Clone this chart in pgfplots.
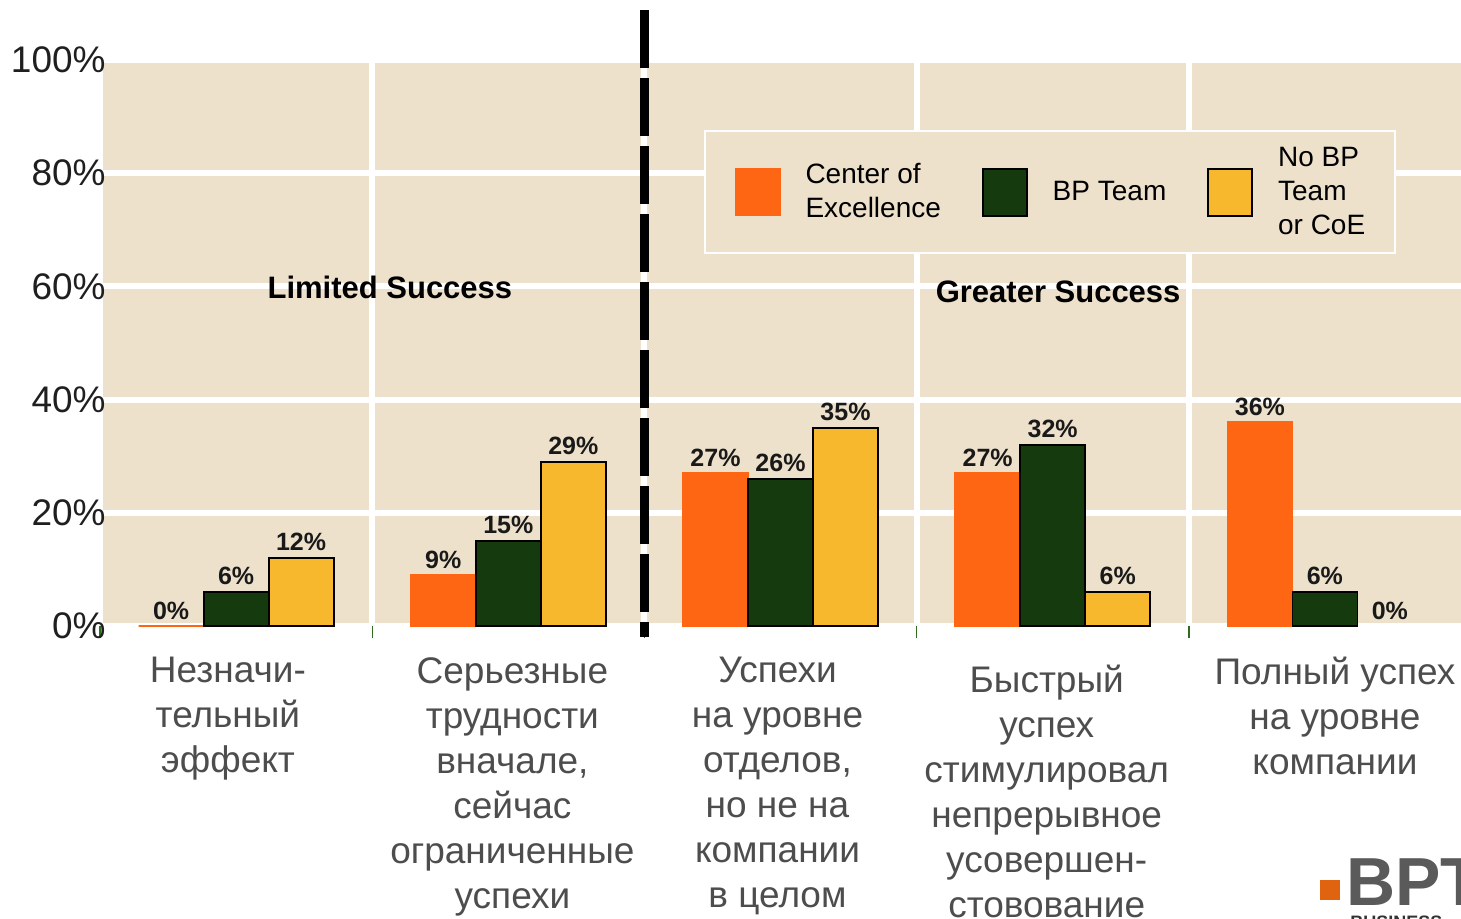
\documentclass[border=0pt]{standalone}
\usepackage{fontspec}
\setmainfont{Liberation Sans}
\usepackage{pgfplots}
\pgfplotsset{compat=1.18}
\definecolor{beige}{HTML}{EDE1CB}
\definecolor{cOrange}{HTML}{FF6614}
\definecolor{cGreen}{HTML}{143A0D}
\definecolor{cYellow}{HTML}{F7B82E}
\definecolor{lblgray}{HTML}{4D4D4D}
\definecolor{tickgreen}{HTML}{2E6B1E}
\definecolor{logogray}{HTML}{5A5A5A}
\definecolor{logoorange}{HTML}{E0640F}

\begin{document}
\begin{tikzpicture}
\path[use as bounding box] (-50pt,-146.5pt) rectangle (680.5pt,313pt);
\begin{axis}[
  at={(0,0)}, anchor=south west,
  scale only axis, width=680.5pt, height=283pt,
  xmin=-0.5, xmax=4.5, ymin=0, ymax=100,
  clip=false,
  axis line style={draw=none},
  axis background/.style={fill=beige},
  ybar=0pt, bar width=32.5pt,
  xtick={-0.03,1.015,1.989,2.978,4.037},
  xticklabels={
    {Незначи-\\тельный\\эффект},
    {Серьезные\\трудности\\вначале,\\сейчас\\ограниченные\\успехи},
    {Успехи\\на уровне\\отделов,\\но не на\\компании\\в целом},
    {\rule{0pt}{17.5pt}Быстрый\\успех\\стимулировал\\непрерывное\\усовершен-\\стовование},
    {Полный успех\\на уровне\\компании}},
  minor xtick={-0.5,0.5,1.5,2.5,3.5},
  xminorgrids=true,
  minor grid style={white, line width=3pt},
  ymajorgrids=true,
  major grid style={white, line width=3pt},
  ytick={0,20,...,100},
  yticklabels={0\%,20\%,40\%,60\%,80\%,100\%},
  major tick length=0pt,
  minor tick length=6pt,
  tick align=outside,
  xtick pos=bottom, ytick pos=left,
  minor tick style={draw=tickgreen, line width=0.7pt},
  xticklabel style={font=\fontsize{18.5}{22.5}\selectfont, text=lblgray, align=center, anchor=north, inner sep=0pt, yshift=-15.5pt},
  yticklabel style={font=\fontsize{18.5}{20}\selectfont, text=black!88, anchor=east, inner sep=0pt, xshift=3pt},
  /pgf/number format/assume math mode=true,
  nodes near coords={\pgfmathprintnumber{\pgfplotspointmeta}\%},
  nodes near coords style={font=\bfseries\fontsize{12.5}{14}\selectfont, text=black!90, inner sep=3pt, anchor=south},
  legend columns=3,
  legend style={at={(0.4438,0.8763)}, anchor=north west, fill=beige, draw=white, line width=1pt,
    inner xsep=15pt, inner ysep=8pt, font=\fontsize{14}{17}\selectfont,
    cells={anchor=west, align=left}, nodes={inner sep=0pt},
    /tikz/column sep=0pt, /tikz/every even column/.append style={column sep=20.5pt}},
  legend image code/.code={\draw[#1] (0pt,-11.75pt) rectangle (22pt,11.75pt); \path (34.5pt,0pt);},
]
\addplot[fill=cOrange, draw=cOrange, line width=0.75pt] coordinates {(0,0) (1,9) (2,27) (3,27) (4,36)};
\addlegendentry{Center of\\Excellence}
\addplot[fill=cGreen, draw=black, line width=0.9pt] coordinates {(0,6) (1,15) (2,26) (3,32) (4,6)};
\addlegendentry{BP Team}
\addplot[fill=cYellow, draw=black, line width=0.9pt] coordinates {(0,12) (1,29) (2,35) (3,6)};
\addlegendentry{No BP\\Team\\or CoE}
\addplot[draw=none, fill=none, bar shift=32.5pt, forget plot] coordinates {(4,0)};
\node[font=\bfseries\fontsize{15.5}{18}\selectfont] at (axis cs:0.565,59.9) {Limited Success};
\node[font=\bfseries\fontsize{15.5}{18}\selectfont] at (axis cs:3.02,59.0) {Greater Success};
\draw[black, line width=4.5pt, dash pattern=on 29pt off 5pt] (axis cs:1.5,108.8) -- (axis cs:1.5,-1.9);
\end{axis}
\fill[logoorange] (610pt,-137pt) rectangle (620pt,-127pt);
\node[anchor=base west, inner sep=0pt, text=logogray, font=\bfseries\fontsize{34}{36}\selectfont] at (623pt,-139.5pt) {BPT};
\node[anchor=base west, inner sep=0pt, text=black!80, font=\bfseries\fontsize{9}{10}\selectfont] at (625pt,-151pt) {BUSINESS};
\end{tikzpicture}
\end{document}
